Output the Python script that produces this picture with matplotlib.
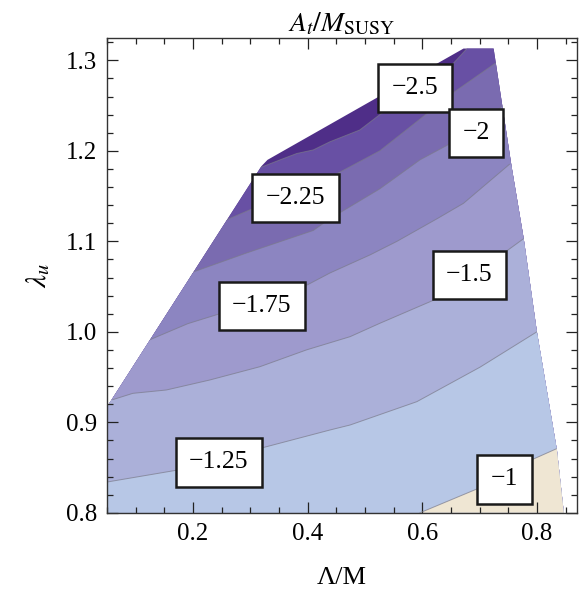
import numpy as np
import matplotlib.pyplot as plt
from matplotlib.patches import Polygon
from matplotlib.ticker import MultipleLocator, FormatStrFormatter

plt.rcParams['font.family'] = ['Liberation Serif', 'DejaVu Serif']
plt.rcParams['mathtext.fontset'] = 'stix'

# allowed region in the (Lambda/M, lambda_u) plane
region_x = [0.05, 0.05, 0.3194, 0.33, 0.672, 0.7245, 0.756, 0.777, 0.800, 0.835, 0.847]
region_y = [0.80, 0.917, 1.183, 1.19, 1.313, 1.313, 1.182, 1.103, 1.000, 0.869, 0.80]

levels = [-2.5, -2.25, -2.0, -1.75, -1.5, -1.25, -1.0]
c250_x = [0.3195, 0.352, 0.381, 0.41, 0.439, 0.491, 0.526, 0.588, 0.649, 0.678]
c250_y = [1.182, 1.190, 1.197, 1.201, 1.210, 1.223, 1.240, 1.269, 1.293, 1.313]
c225_x = [0.258, 0.30, 0.378, 0.452, 0.526, 0.596, 0.649, 0.728]
c225_y = [1.1235, 1.135, 1.148, 1.175, 1.200, 1.235, 1.262, 1.297]
c200_x = [0.191, 0.20, 0.293, 0.41, 0.439, 0.526, 0.596, 0.649, 0.694, 0.740]
c200_y = [1.058, 1.066, 1.087, 1.112, 1.125, 1.158, 1.190, 1.208, 1.222, 1.250]
c175_x = [0.124, 0.191, 0.247, 0.32, 0.40, 0.439, 0.509, 0.556, 0.626, 0.672, 0.752]
c175_y = [0.991, 1.009, 1.020, 1.033, 1.052, 1.065, 1.085, 1.100, 1.125, 1.142, 1.185]
c150_x = [0.060, 0.095, 0.1535, 0.229, 0.3166, 0.398, 0.474, 0.526, 0.62, 0.701, 0.777]
c150_y = [0.925, 0.932, 0.9357, 0.9467, 0.9614, 0.980, 0.9946, 1.0094, 1.035, 1.068, 1.103]
c125_x = [0.05, 0.171, 0.328, 0.439, 0.474, 0.5906, 0.701, 0.800]
c125_y = [0.834, 0.847, 0.873, 0.8915, 0.897, 0.9228, 0.961, 1.000]
c100_x = [0.596, 0.698, 0.789, 0.835]
c100_y = [0.80, 0.827, 0.858, 0.871]
curves = [(c250_x, c250_y), (c225_x, c225_y), (c200_x, c200_y), (c175_x, c175_y),
          (c150_x, c150_y), (c125_x, c125_y), (c100_x, c100_y)]

# label positions (on the lines)
label_x = [0.5876, 0.3787, 0.694, 0.320, 0.6823, 0.2449, 0.7435]
label_y = [1.2694, 1.1478, 1.2197, 1.0285, 1.0628, 0.8556, 0.8368]
label_txt = ['\u22122.5', '\u22122.25', '\u22122', '\u22121.75', '\u22121.5', '\u22121.25', '\u22121']

band_colors = ['#4f2e88', '#6850a4', '#7a6bb0', '#8c85c1', '#9e9acd', '#abb0d9', '#b7c7e6', '#efe6d3']

fig = plt.figure(figsize=(5.83, 5.97), dpi=100)
ax = fig.add_axes([107 / 583, 1 - 512.8 / 597, 470 / 583, 475.1 / 597])

region = Polygon(np.column_stack([region_x, region_y]), closed=True,
                 facecolor=band_colors[0], edgecolor='none', zorder=1)
ax.add_patch(region)

for i, (cx, cy) in enumerate(curves):
    px = list(cx)
    py = list(cy)
    # close the area above the level (lower right side) far outside the region
    if cy[-1] >= 1.31:
        px += [cx[-1], 1.5]
        py += [1.5, 1.5]
    else:
        px += [1.5]
        py += [cy[-1]]
    px += [1.5]
    py += [0.5]
    if cy[0] <= 0.8:
        px += [cx[0]]
        py += [0.5]
    else:
        px += [-0.5, -0.5]
        py += [0.5, cy[0]]
    band = Polygon(np.column_stack([px, py]), closed=True,
                   facecolor=band_colors[i + 1], edgecolor='none', zorder=1 + i * 0.01)
    ax.add_patch(band)
    band.set_clip_path(region)
    ln, = ax.plot(cx, cy, color='#7a7a8a', lw=0.7, alpha=0.7, zorder=2)
    ln.set_clip_path(region)

for lx, ly, s in zip(label_x, label_y, label_txt):
    ax.text(lx, ly, s, ha='center', va='center', fontsize=18.5, zorder=5,
            bbox=dict(boxstyle='square,pad=0.52', fc='white', ec='#1a1a1a', lw=1.8))

ax.set_xlim(0.05, 0.87)
ax.set_ylim(0.8, 1.325)
ax.set_xticks([0.2, 0.4, 0.6, 0.8])
ax.set_yticks([0.8, 0.9, 1.0, 1.1, 1.2, 1.3])
ax.xaxis.set_minor_locator(MultipleLocator(0.05))
ax.yaxis.set_minor_locator(MultipleLocator(0.02))
ax.xaxis.set_major_formatter(FormatStrFormatter('%.1f'))
ax.yaxis.set_major_formatter(FormatStrFormatter('%.1f'))
ax.tick_params(which='both', direction='in', top=True, right=True, color='#222222',
               labelsize=18, width=0.9)
ax.tick_params(which='major', length=8, pad=7)
ax.tick_params(which='minor', length=4.5)
for sp in ax.spines.values():
    sp.set_color('#333333')
    sp.set_linewidth(1.0)

ax.set_title(r'$A_t/M_{\mathrm{SUSY}}$', fontsize=20, pad=2)
ax.set_xlabel('\u039b/M', fontsize=19, labelpad=16)
ax.set_ylabel(r'$\lambda_u$', fontsize=21, labelpad=10)

fig.savefig('out.png', dpi=100)
